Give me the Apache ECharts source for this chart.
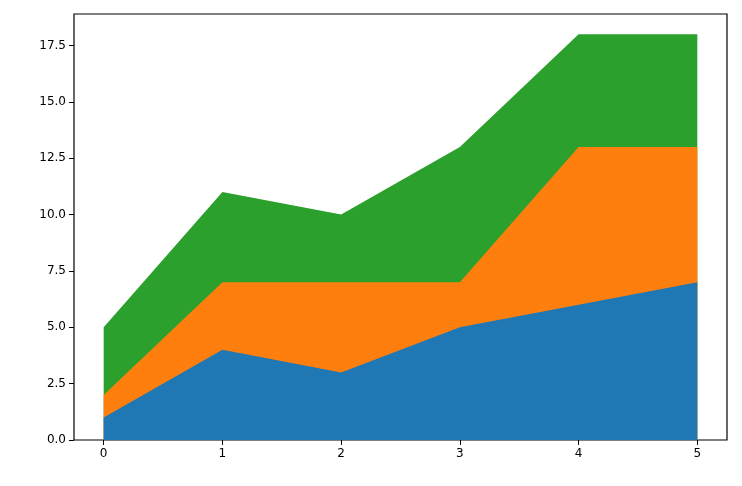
<!DOCTYPE html>
<html><head><meta charset="utf-8">
<script src="https://cdn.jsdelivr.net/npm/echarts@6/dist/echarts.min.js"></script>
<style>html,body{margin:0;padding:0;background:#fff}#c{width:742px;height:486px}</style>
</head><body><div id="c"></div>
<script>
const xs = [0, 1, 2, 3, 4, 5];
const s1 = [1, 4, 3, 5, 6, 7];
const s2 = [1, 3, 4, 2, 7, 6];
const s3 = [3, 4, 3, 6, 5, 5];
const yTicks = [0, 2.5, 5, 7.5, 10, 12.5, 15, 17.5];
const colors = ['#1f77b4', '#ff7f0e', '#2ca02c'];
const c1 = s1.slice();
const c2 = s1.map((v, i) => v + s2[i]);
const c3 = c2.map((v, i) => v + s3[i]);
const chart = echarts.init(document.getElementById('c'));
const mk = (d, i) => ({
  type: 'line', data: xs.map((x, j) => [x, d[j]]),
  symbol: 'none', lineStyle: {width: 0}, areaStyle: {color: colors[i], opacity: 1, origin: 'start'},
  itemStyle: {color: colors[i]}, z: 2 + (2 - i)
});
const lab = {color: '#000', fontFamily: 'DejaVu Sans', fontSize: 12};
chart.setOption({
  animation: false,
  grid: {left: 74, right: 15, top: 14, bottom: 46, show: true, borderColor: '#000', borderWidth: 1.2},
  xAxis: {type: 'value', min: -0.25, max: 5.25, splitLine: {show: false},
    axisLine: {show: false, onZero: false},
    axisTick: {show: true, inside: false, customValues: xs, length: 5, lineStyle: {color: '#000'}},
    axisLabel: Object.assign({customValues: xs, margin: 8}, lab)},
  yAxis: {type: 'value', min: 0, max: 18.9, splitLine: {show: false},
    axisLine: {show: false, onZero: false},
    axisTick: {show: true, inside: false, customValues: yTicks, length: 5, lineStyle: {color: '#000'}},
    axisLabel: Object.assign({customValues: yTicks, margin: 8, formatter: v => v.toFixed(1)}, lab)},
  series: [mk(c3, 2), mk(c2, 1), mk(c1, 0)]
});
</script></body></html>
